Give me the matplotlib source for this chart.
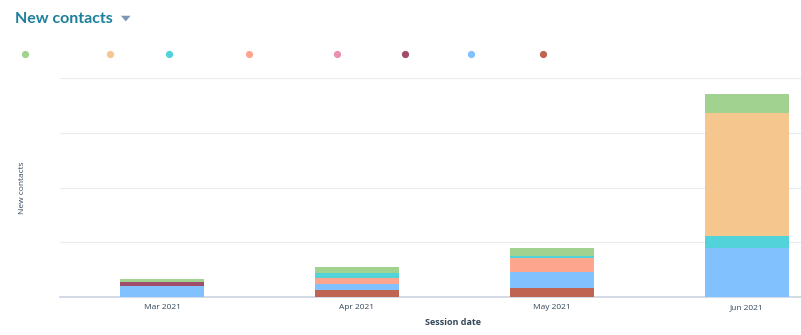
import matplotlib
matplotlib.use("Agg")
import matplotlib.pyplot as plt
from matplotlib.lines import Line2D
from matplotlib.patches import Polygon
import numpy as np

plt.rcParams['font.family'] = ['Open Sans', 'DejaVu Sans']

# Monthly new contacts, split by source (stacked bottom to top)
months = ["Mar 2021", "Apr 2021", "May 2021", "Jun 2021"]
series_names = ["Brown", "Blue", "Purple", "Pink", "Salmon", "Teal", "Orange", "Green"]
brown  = [0, 13, 17, 0]
blue   = [20, 11, 28, 90]
purple = [7, 0, 0, 0]
pink   = [0, 0, 1, 0]
salmon = [0, 11, 25, 0]
teal   = [0, 9, 4, 22]
orange = [0, 0, 0, 225]
green  = [5, 10, 14, 34]

stack = [brown, blue, purple, pink, salmon, teal, orange, green]
colors = {
    "Green": "#a2d28f", "Orange": "#f5c78e", "Teal": "#51d3d9", "Salmon": "#fea58e",
    "Pink": "#ea90b1", "Purple": "#a04d6a", "Blue": "#81c1fd", "Brown": "#bf6453",
}
legend_order = ["Green", "Orange", "Teal", "Salmon", "Pink", "Purple", "Blue", "Brown"]
legend_x = [0.031, 0.137, 0.211, 0.311, 0.421, 0.506, 0.588, 0.678]

fig = plt.figure(figsize=(8.01, 3.35), dpi=100)
ax = fig.add_axes([0.0749, 0.1134, 0.9251, 0.6537])

x = np.arange(len(months))
bottom = np.zeros(len(months))
for name, vals in zip(series_names, stack):
    ax.bar(x, vals, bottom=bottom, width=0.435, color=colors[name], linewidth=0, zorder=3)
    bottom += np.array(vals)

ax.set_xlim(-0.523, 3.277)
ax.set_ylim(0, 400)
ax.set_yticks([100, 200, 300, 400])
ax.yaxis.grid(True, color="#e8ecf1", linewidth=0.8, zorder=0)
ax.tick_params(axis="y", length=0, labelleft=False)
ax.set_xticks(x)
ax.set_xticklabels(months, fontsize=6, color="#33475b")
ax.tick_params(axis="x", length=0, pad=5)
for side in ["top", "right", "left"]:
    ax.spines[side].set_visible(False)
ax.spines["bottom"].set_color("#cbd6e2")
ax.spines["bottom"].set_linewidth(1.2)

ax.set_xlabel("Session date", fontsize=6.5, fontweight="bold", color="#33475b")
ax.xaxis.set_label_coords(0.53, -0.095)
fig.text(0.028, 0.44, "New contacts", rotation=90, fontsize=6, color="#33475b",
         ha="center", va="center")

# Title with dropdown caret
fig.text(0.019, 0.944, "New contacts", fontsize=11.5, fontweight="bold", color="#1c7f9b",
         family=["Lato", "DejaVu Sans"], ha="left", va="center")
fig.patches.append(Polygon([[0.151, 0.953], [0.163, 0.953], [0.157, 0.936]], closed=True,
                           transform=fig.transFigure, facecolor="#7c98b6", edgecolor="none"))

# Legend swatches
for name, lx in zip(legend_order, legend_x):
    fig.add_artist(Line2D([lx], [0.838], marker="o", markersize=4.2, linestyle="none",
                          color=colors[name], transform=fig.transFigure))

fig.savefig("out.png", dpi=100)
